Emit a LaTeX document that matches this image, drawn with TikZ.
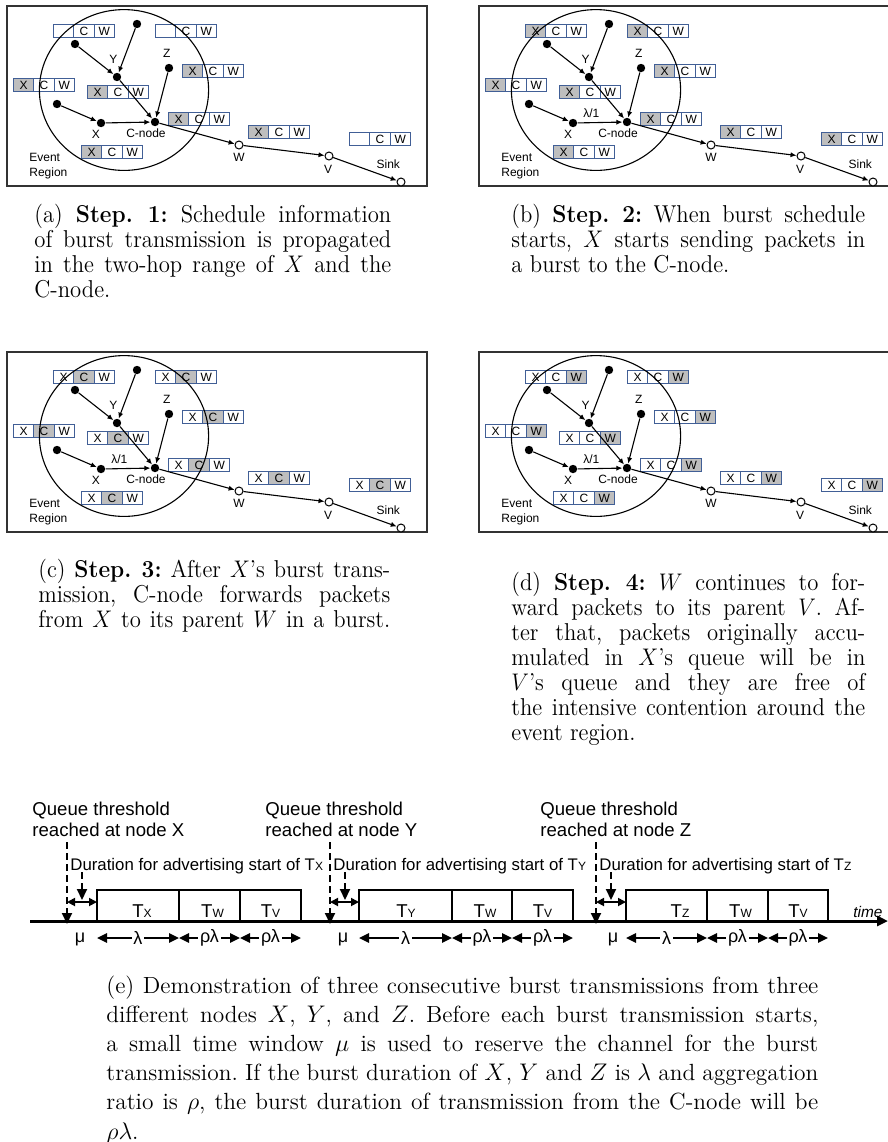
\documentclass[tikz,border=0pt]{standalone}
\usepackage{fontspec}
\newfontfamily\arial{Liberation Sans}
\usetikzlibrary{arrows.meta}
\definecolor{boxblue}{RGB}{65,95,150}
\definecolor{boxgray}{RGB}{190,190,190}
\newcommand\jl[1]{\makebox[\linewidth][s]{#1}}
\newcommand\sbx[1]{\raisebox{-0.4pt}{\fontsize{6}{6}\selectfont #1}}
\newcommand\cpfont{\frenchspacing\fontsize{12.2}{12.5}\selectfont}
\newcommand\cpfonte{\frenchspacing\fontsize{11.7}{14.6}\selectfont}
\newcommand\capbox[2]{\scalebox{0.93}[1]{\parbox[t]{#1}{\cpfont #2}}}
\newcommand\qbox[5]{%
  \ifnum#5=1 \def\qfa{boxgray}\else\def\qfa{white}\fi
  \ifnum#5=2 \def\qfb{boxgray}\else\def\qfb{white}\fi
  \ifnum#5=3 \def\qfc{boxgray}\else\def\qfc{white}\fi
  \node[cell,fill=\qfa] (#1x) at (#2,#3) {#4};
  \node[cell,fill=\qfb] (#1c) at ({#2+20.3},#3) {C};
  \node[cell,fill=\qfc] (#1w) at ({#2+40.6},#3) {W};
}
\newcommand\panel[7]{%
\begin{scope}[shift={(#2,#3)}]
  \draw[frame] (7,6) rectangle (427,186);
  \qbox{#1b1}{53}{24}{#5}{#6}
  \qbox{#1b2}{155}{24}{#5}{#6}
  \qbox{#1b3}{182}{64}{X}{#4}
  \qbox{#1b4}{13}{78}{X}{#4}
  \qbox{#1b5}{87}{85}{X}{#4}
  \qbox{#1b6}{168}{112}{X}{#4}
  \qbox{#1b7}{248}{125}{X}{#4}
  \qbox{#1b8}{81}{145}{X}{#4}
  \qbox{#1b9}{349}{132}{#5}{#6}
  \draw[region] (124,90) ellipse [x radius=42.3pt, y radius=40.2pt];
  \node[dot] (#1top) at (137,24) {};
  \node[dot] (#1ul) at (75,44) {};
  \node[dot] (#1Y) at (117,77) {};
  \node[dot] (#1Z) at (169,68) {};
  \node[dot] (#1lf) at (57,104) {};
  \node[dot] (#1X) at (101,123) {};
  \node[dot] (#1C) at (155,122) {};
  \node[odot] (#1W) at (239,145) {};
  \node[odot] (#1V) at (329,156) {};
  \node[odot] (#1S) at (401,182) {};
  \draw[arr] (#1ul) -- (#1Y);
  \draw[arr] (#1top) -- (#1Y);
  \draw[arr] (#1Y) -- (#1C);
  \draw[arr] (#1Z) -- (#1C);
  \draw[arr] (#1lf) -- (#1X);
  \draw[arr] (#1X) -- (#1C);
  \draw[arr] (#1C) -- (#1W);
  \draw[arr] (#1W) -- (#1V);
  \draw[arr] (#1V) -- (#1S);
  \node[lbl,anchor=base] (#1lY) at (113.5,63) {Y};
  \node[lbl,anchor=base] (#1lZ) at (166.7,57) {Z};
  \node[lbl,anchor=base] (#1lX) at (96,138) {X};
  \node[lbl,anchor=base] (#1lC) at (146,137) {C-node};
  \node[lbl,anchor=base] (#1lW) at (239,161) {W};
  \node[lbl,anchor=base] (#1lV) at (328,173) {V};
  \node[lbl,anchor=base] (#1lS) at (388.3,168) {Sink};
  \node[lbl,anchor=base west] (#1lE) at (29,161) {Event};
  \node[lbl,anchor=base west] (#1lR) at (29,176) {Region};
  \ifnum#7=1 \node[lbl,anchor=base] (#1lam) at (119.3,117) {λ/1};\fi
\end{scope}}
\begin{document}
\begin{tikzpicture}[x=0.5pt,y=-0.5pt,
 frame/.style={draw=black!80, line width=0.55pt},
 cell/.style={draw=boxblue, line width=0.55pt, anchor=north west, minimum width=10.15pt, minimum height=6.65pt, inner sep=0pt, font=\arial\fontsize{6}{6}\selectfont},
 region/.style={draw, line width=0.55pt},
 dot/.style={circle, fill=black, inner sep=0pt, minimum size=4.2pt},
 odot/.style={circle, draw, fill=white, line width=0.5pt, inner sep=0pt, minimum size=4pt},
 lbl/.style={font=\arial\fontsize{6}{7}\selectfont, inner sep=0pt},
 arr/.style={line width=0.55pt, -{Latex[length=3pt,width=2.6pt]}},
 tbox/.style={draw, line width=0.6pt},
 tlab/.style={font=\arial\fontsize{9.3}{10}\selectfont, inner sep=0pt, anchor=base},
 qlab/.style={font=\arial\fontsize{9.3}{10}\selectfont, inner sep=0pt, anchor=base west},
 dlab/.style={font=\arial\fontsize{8.4}{9}\selectfont, inner sep=0pt, anchor=base west},
 dline/.style={line width=1pt, dash pattern=on 3.5pt off 2pt, -{Triangle[length=5.5pt,width=5pt]}},
 marr/.style={line width=0.9pt, {Triangle[length=4pt,width=4pt]}-{Triangle[length=4pt,width=4pt]}},
 barr/.style={line width=1.2pt, {Triangle[length=5pt,width=4.6pt]}-{Triangle[length=5pt,width=4.6pt]}},
 glab/.style={font=\arial\fontsize{9}{10}\selectfont, fill=white, inner sep=0.8pt},
 axisline/.style={line width=1.5pt, -{Triangle[length=5.5pt,width=5pt]}},
 capnode/.style={inner sep=0pt, anchor=base west}]
\useasboundingbox (0,0) rectangle (888,1142);
% panels
\panel{a}{0}{0}{1}{}{0}{0}
\panel{b}{472}{0}{1}{X}{1}{1}
\panel{c}{0}{346}{2}{X}{2}{1}
\panel{d}{472}{346}{3}{X}{3}{1}
% captions
\node[capnode] (capa) at (34,222) {\capbox{191.9pt}{%
 \jl{(a) \textbf{Step. 1:} Schedule information}\\
 \jl{of burst transmission is propagated}\\
 \jl{in the two-hop range of $X$ and the}\\
 C-node.}};
\node[capnode] (capb) at (511,222) {\capbox{190.3pt}{%
 \jl{(b) \textbf{Step. 2:} When burst schedule}\\
 \jl{starts, $X$ starts sending packets in}\\
 a burst to the C-node.}};
\node[capnode] (capc) at (38,577) {\capbox{189.2pt}{%
 \jl{(c) \textbf{Step. 3:} After $X$'s burst trans-}\\
 \jl{mission, C-node forwards packets}\\
 \jl{from $X$ to its parent $W$ in a burst.}}};
\node[capnode] (capd) at (511,590) {\capbox{190.3pt}{%
 \jl{(d) \textbf{Step. 4:} $W$ continues to for-}\\
 \jl{ward packets to its parent $V$. Af-}\\
 \jl{ter that, packets originally accu-}\\
 \jl{mulated in $X$'s queue will be in}\\
 \jl{$V$'s queue and they are free of}\\
 \jl{the intensive contention around the}\\
 event region.}};
\node[capnode] (cape) at (106,993) {\parbox[t]{356pt}{\cpfonte
 \jl{(e) Demonstration of three consecutive burst transmissions from three}\\
 \jl{different nodes $X$, $Y$, and $Z$. Before each burst transmission starts,}\\
 \jl{a small time window $\mu$ is used to reserve the channel for the burst}\\
 \jl{transmission. If the burst duration of $X$, $Y$ and $Z$ is $\lambda$ and aggregation}\\
 \jl{ratio is $\rho$, the burst duration of transmission from the C-node will be}\\
 $\rho\lambda$.}};
% timeline
\node[qlab] (q1a) at (32,815) {Queue threshold};
\node[qlab] (q1b) at (32,836) {reached at node X};
\node[qlab] (q2a) at (265,815) {Queue threshold};
\node[qlab] (q2b) at (265,836) {reached at node Y};
\node[qlab] (q3a) at (540,815) {Queue threshold};
\node[qlab] (q3b) at (540,836) {reached at node Z};
\foreach \g/\q/\s/\a/\b/\c/\d/\m/\sub/\tx in {1/67/82/97/179/240/301/80/X/142, 2/330/345/359/452/512/573/343/Y/406, 3/596/611/626/707/768/828/613/Z/680}{
  \draw[tbox] (\a,890) rectangle (\b,921);
  \draw[tbox] (\b,890) rectangle (\c,921);
  \draw[tbox] (\c,890) rectangle (\d,921);
  \node[tlab] (tm\g) at (\tx,917) {T\sbx{\sub}};
  \node[tlab] (tw\g) at ({(\b+\c)/2+3},917) {T\sbx{W}};
  \node[tlab] (tv\g) at ({(\c+\d)/2},917) {T\sbx{V}};
  \coordinate (qa\g) at (\q,842);
  \coordinate (qb\g) at (\q,924);
  \draw[dline] (qa\g) -- (qb\g);
  \coordinate (sa\g) at (\s,872);
  \coordinate (sb\g) at (\s,900);
  \draw[dline] (sa\g) -- (sb\g);
  \coordinate (ma\g) at (\q,902);
  \coordinate (mb\g) at (\a,902);
  \draw[marr] (ma\g) -- (mb\g);
  \node[dlab] (dur\g) at ({\q+3},870) {Duration for advertising start of T\sbx{\sub}};
  \node[glab, fill=none] (mu\g) at (\m,939) {μ};
  \coordinate (la\g) at (\a,938);
  \coordinate (lb\g) at (\b,938);
  \coordinate (lc\g) at (\c,938);
  \coordinate (ld\g) at (\d,938);
  \draw[barr] (la\g) -- (lb\g) node[glab, midway] (lam\g) {λ};
  \draw[barr] (lb\g) -- (lc\g) node[glab, midway] (rl\g) {ρλ};
  \draw[barr] (lc\g) -- (ld\g) node[glab, midway] (rm\g) {ρλ};
}
\coordinate (ax0) at (30,921);
\coordinate (ax1) at (888,921);
\draw[axisline] (ax0) -- (ax1);
\node[font=\arial\itshape\fontsize{7.7}{8}\selectfont, anchor=base west, inner sep=0pt] (time) at (853,917) {time};
\end{tikzpicture}
\end{document}
